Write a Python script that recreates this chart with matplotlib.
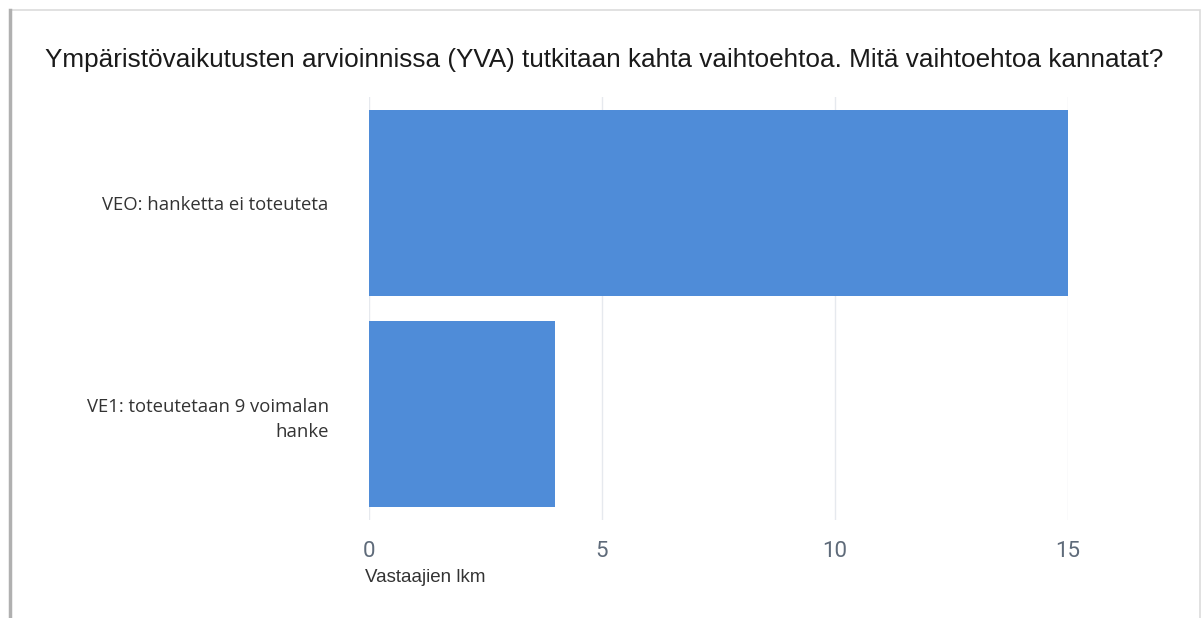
import numpy as np
import matplotlib.pyplot as plt
from matplotlib.patches import Rectangle

# data
categories = ["VEO: hanketta ei toteuteta", "VE1: toteutetaan 9 voimalan\nhanke"]
counts = [15, 4]
xticks = [0, 5, 10, 15]

title = "Ympäristövaikutusten arvioinnissa (YVA) tutkitaan kahta vaihtoehtoa. Mitä vaihtoehtoa kannatat?"

fig = plt.figure(figsize=(12.03, 6.18), dpi=100)
ax = fig.add_axes([369 / 1203, 1 - 520 / 618, 699 / 1203, 423 / 618])

y = np.arange(len(categories))
ax.barh(y, counts, height=0.88, color="#4f8cd8", zorder=3)
ax.set_xlim(0, 15)
ax.set_ylim(1.5, -0.5)

ax.set_yticks(y)
ax.set_yticklabels(categories, fontsize=13.3, family=["Open Sans", "DejaVu Sans"],
                   color="#333333", ha="right", multialignment="right", linespacing=1.45)
ax.tick_params(axis="y", length=0, pad=29)

ax.set_xticks(xticks)
ax.set_xticklabels([str(t) for t in xticks], fontsize=16, family=["Roboto", "DejaVu Sans"],
                   color="#5f6b7a")
ax.tick_params(axis="x", length=0, pad=15)

ax.grid(axis="x", color="#e6e9ee", linewidth=1, zorder=0)
for s in ax.spines.values():
    s.set_visible(False)

fig.text(45 / 1203, 1 - 60 / 618, title, fontsize=18.8, family=["Liberation Sans", "DejaVu Sans"],
         color="#1a1a1a", ha="left", va="center")
fig.text(365 / 1203, 1 - 578 / 618, "Vastaajien lkm", fontsize=13.5, family=["Liberation Sans", "DejaVu Sans"],
         color="#333333", ha="left", va="center")

# card border
fig.patches.append(Rectangle((10 / 1203, -0.05), 1190 / 1203, 1 - 10 / 618 + 0.05,
                             transform=fig.transFigure, fill=False, edgecolor="#dcdcdc", linewidth=1.2))
fig.lines.append(plt.Line2D([10 / 1203, 10 / 1203], [0, 1 - 10 / 618], transform=fig.transFigure,
                            color="#b0b0b0", linewidth=2.5))

fig.savefig("out.png", dpi=100)
